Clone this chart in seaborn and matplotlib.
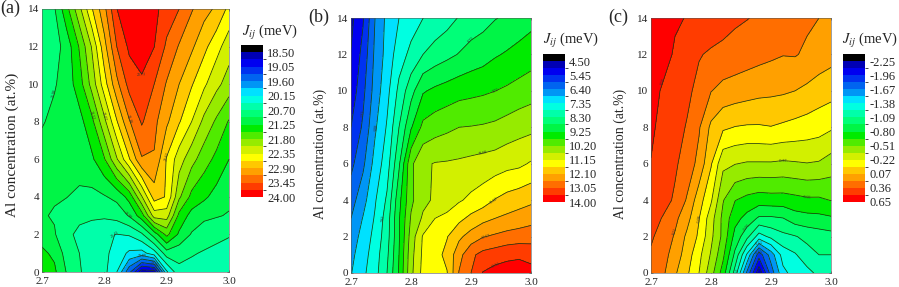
import matplotlib
matplotlib.use("Agg")
import matplotlib.pyplot as plt
from matplotlib.colors import ListedColormap, BoundaryNorm
import numpy as np
import seaborn as sns

sns.set_style("ticks")
plt.rcParams['font.family'] = ['Liberation Serif', 'DejaVu Serif']
plt.rcParams['mathtext.fontset'] = 'stix'

# lattice constant and Al content of the grid
lattice = [2.70, 2.72, 2.74, 2.76, 2.78, 2.80, 2.82, 2.84, 2.86, 2.88, 2.90, 2.92, 2.94, 2.96, 2.98, 3.00]
al_conc = [0, 1, 2, 3, 4, 6, 8, 10, 12, 14]

# J_ij in meV, one row per Al concentration
j_a = [
    [21.40, 21.30, 20.95, 20.72, 20.60, 20.50, 20.15, 19.40, 18.60, 18.65, 20.10, 20.62, 20.62, 20.60, 20.60, 20.58],
    [21.30, 21.20, 20.85, 20.70, 20.60, 20.50, 20.30, 20.10, 20.05, 20.30, 20.85, 20.80, 20.72, 20.68, 20.65, 20.60],
    [21.15, 21.00, 20.75, 20.65, 20.55, 20.45, 20.42, 20.45, 20.65, 21.10, 21.60, 21.20, 20.95, 20.80, 20.75, 20.72],
    [21.00, 20.95, 20.85, 20.75, 20.75, 20.75, 20.80, 21.00, 21.40, 22.20, 22.20, 21.45, 21.15, 21.05, 21.00, 20.95],
    [21.05, 21.00, 20.98, 20.90, 20.90, 20.95, 21.05, 21.35, 22.05, 22.75, 22.60, 21.85, 21.45, 21.30, 21.15, 21.05],
    [21.10, 21.15, 21.15, 21.15, 21.20, 21.50, 22.05, 22.60, 23.15, 23.15, 22.60, 22.20, 21.90, 21.65, 21.45, 21.25],
    [20.95, 21.05, 21.05, 21.15, 21.45, 22.00, 22.60, 23.15, 23.48, 23.25, 22.95, 22.65, 22.35, 22.00, 21.75, 21.50],
    [20.80, 20.95, 21.10, 21.40, 21.90, 22.50, 23.10, 23.55, 23.68, 23.45, 23.15, 22.90, 22.65, 22.40, 22.15, 21.95],
    [20.75, 20.85, 21.10, 21.55, 22.10, 22.80, 23.45, 23.78, 23.85, 23.73, 23.40, 23.15, 22.95, 22.70, 22.45, 22.20],
    [20.75, 20.95, 21.45, 22.00, 22.60, 23.10, 23.72, 23.95, 23.98, 23.80, 23.60, 23.45, 23.20, 23.00, 22.85, 22.55],
]
j_b = [
    [6.85, 7.25, 7.65, 8.30, 9.30, 10.55, 11.30, 11.40, 11.60, 12.60, 13.05, 13.55, 13.70, 13.75, 13.75, 13.70],
    [6.75, 7.15, 7.60, 8.20, 9.25, 10.50, 11.25, 11.45, 11.75, 12.40, 12.95, 13.20, 13.30, 13.40, 13.45, 13.35],
    [6.60, 7.05, 7.50, 8.10, 9.20, 10.40, 11.20, 11.40, 11.60, 12.00, 12.30, 12.55, 12.65, 12.75, 12.80, 12.85],
    [6.40, 6.90, 7.40, 8.05, 9.20, 10.25, 10.75, 11.15, 11.25, 11.50, 11.75, 11.95, 12.10, 12.20, 12.30, 12.40],
    [6.20, 6.70, 7.30, 7.90, 9.10, 10.10, 10.55, 10.75, 10.95, 11.10, 11.25, 11.40, 11.65, 11.80, 11.90, 12.00],
    [5.80, 6.30, 7.05, 7.60, 8.70, 10.10, 10.60, 10.70, 10.72, 10.75, 10.80, 10.85, 10.90, 11.00, 11.05, 11.20],
    [5.45, 6.00, 6.80, 7.40, 8.30, 9.20, 9.85, 10.00, 10.10, 10.20, 10.22, 10.25, 10.30, 10.40, 10.50, 10.55],
    [5.15, 5.80, 6.60, 7.20, 7.95, 8.60, 9.20, 9.35, 9.45, 9.55, 9.60, 9.65, 9.72, 9.80, 9.90, 10.00],
    [5.00, 5.60, 6.50, 7.05, 7.60, 7.95, 8.30, 8.50, 8.65, 8.80, 8.95, 9.05, 9.20, 9.30, 9.40, 9.50],
    [4.85, 5.40, 6.40, 7.00, 7.35, 7.60, 7.82, 7.97, 8.12, 8.33, 8.50, 8.60, 8.75, 8.85, 8.98, 9.10],
]
j_c = [
    [0.33, 0.24, 0.09, -0.05, -0.22, -0.45, -0.72, -1.15, -1.70, -2.22, -1.75, -1.42, -1.32, -1.28, -1.20, -1.15],
    [0.34, 0.27, 0.15, 0.00, -0.18, -0.38, -0.62, -0.98, -1.40, -1.90, -1.60, -1.32, -1.25, -1.15, -1.09, -1.09],
    [0.38, 0.30, 0.20, 0.04, -0.10, -0.33, -0.55, -0.85, -1.05, -1.30, -1.20, -1.13, -1.10, -1.05, -1.02, -1.00],
    [0.42, 0.35, 0.25, 0.12, -0.07, -0.30, -0.55, -0.75, -0.85, -0.97, -0.97, -0.95, -0.87, -0.85, -0.84, -0.82],
    [0.45, 0.41, 0.34, 0.20, -0.01, -0.20, -0.50, -0.65, -0.70, -0.73, -0.72, -0.72, -0.70, -0.68, -0.68, -0.65],
    [0.50, 0.43, 0.38, 0.30, 0.17, -0.06, -0.33, -0.36, -0.38, -0.38, -0.38, -0.39, -0.38, -0.37, -0.38, -0.43],
    [0.53, 0.46, 0.41, 0.35, 0.23, 0.04, -0.05, -0.08, -0.09, -0.09, -0.08, -0.10, -0.12, -0.14, -0.16, -0.20],
    [0.55, 0.49, 0.44, 0.39, 0.32, 0.22, 0.17, 0.15, 0.13, 0.11, 0.10, 0.09, 0.07, 0.04, 0.00, -0.02],
    [0.60, 0.55, 0.49, 0.43, 0.37, 0.34, 0.32, 0.30, 0.28, 0.26, 0.24, 0.22, 0.225, 0.19, 0.155, 0.12],
    [0.62, 0.56, 0.52, 0.50, 0.48, 0.45, 0.42, 0.385, 0.365, 0.34, 0.32, 0.30, 0.27, 0.24, 0.215, 0.19],
]

# colour bar tick labels
ticks_a = ['18.50', '19.05', '19.60', '20.15', '20.70', '21.25', '21.80', '22.35', '22.90', '23.45', '24.00']
ticks_b = ['4.50', '5.45', '6.40', '7.35', '8.30', '9.25', '10.20', '11.15', '12.10', '13.05', '14.00']
ticks_c = ['-2.25', '-1.96', '-1.67', '-1.38', '-1.09', '-0.80', '-0.51', '-0.22', '0.07', '0.36', '0.65']

band_colors = ['#0000b4', '#0000f0', '#0032f0', '#0064f0', '#0096f5', '#00e1ff', '#00ffe1', '#00ffaa',
               '#00ff78', '#00f546', '#00eb00', '#50eb00', '#96eb00', '#d2f000', '#ffff00', '#ffc800',
               '#ffa000', '#ff6e00', '#ff3c00', '#ff0000']
cmap = ListedColormap(sns.color_palette(band_colors))
cmap.set_under('black')

W, H = 899, 287


def px_axes(left, top, right, bottom):
    return fig.add_axes([left / W, 1 - bottom / H, (right - left) / W, (bottom - top) / H])


fig = plt.figure(figsize=(W / 100, H / 100), dpi=100)

panels = [
    (j_a, ticks_a, '(a)', (42, 9, 229, 272), (241, 45, 263, 197), 0, 8, 11, 19, 145, 270),
    (j_b, ticks_b, '(b)', (351, 18, 531, 273), (543, 54, 565, 202), 308, 17, 9.9, 327, 154, 571),
    (j_c, ticks_c, '(c)', (651, 18, 831, 273), (843, 54, 865, 202), 608, 17, 9.9, 627, 154, 870),
]

for z, labels, tag, box, cbox, tag_x, tag_y, yfont, ylab_x, ylab_y, head_x in panels:
    ax = px_axes(*box)
    levels = np.linspace(float(labels[0]), float(labels[-1]), 21)
    norm = BoundaryNorm(levels, 20)
    cf = ax.contourf(lattice, al_conc, z, levels=levels, cmap=cmap, norm=norm, extend='min')
    cs = ax.contour(lattice, al_conc, z, levels=levels, colors='#1a3a10', linewidths=0.55,
                    negative_linestyles='solid')
    ax.clabel(cs, levels=levels[1::2], fontsize=3, fmt='%.2f', inline=False, colors='#333333')

    ax.set_xlim(2.7, 3.0)
    ax.set_ylim(0, 14)
    ax.set_xticks([2.7, 2.8, 2.9, 3.0])
    ax.set_yticks(range(0, 15, 2))
    ax.tick_params(direction='in', length=1.5, width=0.4, labelsize=8, pad=2, top=True, right=True, color='#333333')
    ax.tick_params(axis='x', pad=3.5)
    for s in ax.spines.values():
        s.set_linewidth(0.4)
        s.set_color('#555555')
    ax.set_ylabel('Al concentration (at.%)', fontsize=yfont)
    ax.yaxis.set_label_coords((ylab_x - box[0]) / (box[2] - box[0]), 1 - (ylab_y - box[1]) / (box[3] - box[1]))
    fig.text(tag_x / W, 1 - tag_y / H, tag, fontsize=13, ha='left', va='center')

    cax = px_axes(*cbox)
    cb = fig.colorbar(cf, cax=cax, extend='min', extendrect=True, extendfrac=0.05, spacing='proportional',
                      ticks=levels[::2], drawedges=False)
    cax.invert_yaxis()
    cb.ax.set_yticklabels(labels)
    cb.ax.tick_params(length=0, labelsize=9, pad=3)
    cb.outline.set_visible(False)
    fig.text(head_x / W, 1 - (cbox[1] - 13) / H, r'$J_{ij}$ (meV)', fontsize=10.5, ha='center', va='center')

fig.savefig('out.png', dpi=100)
